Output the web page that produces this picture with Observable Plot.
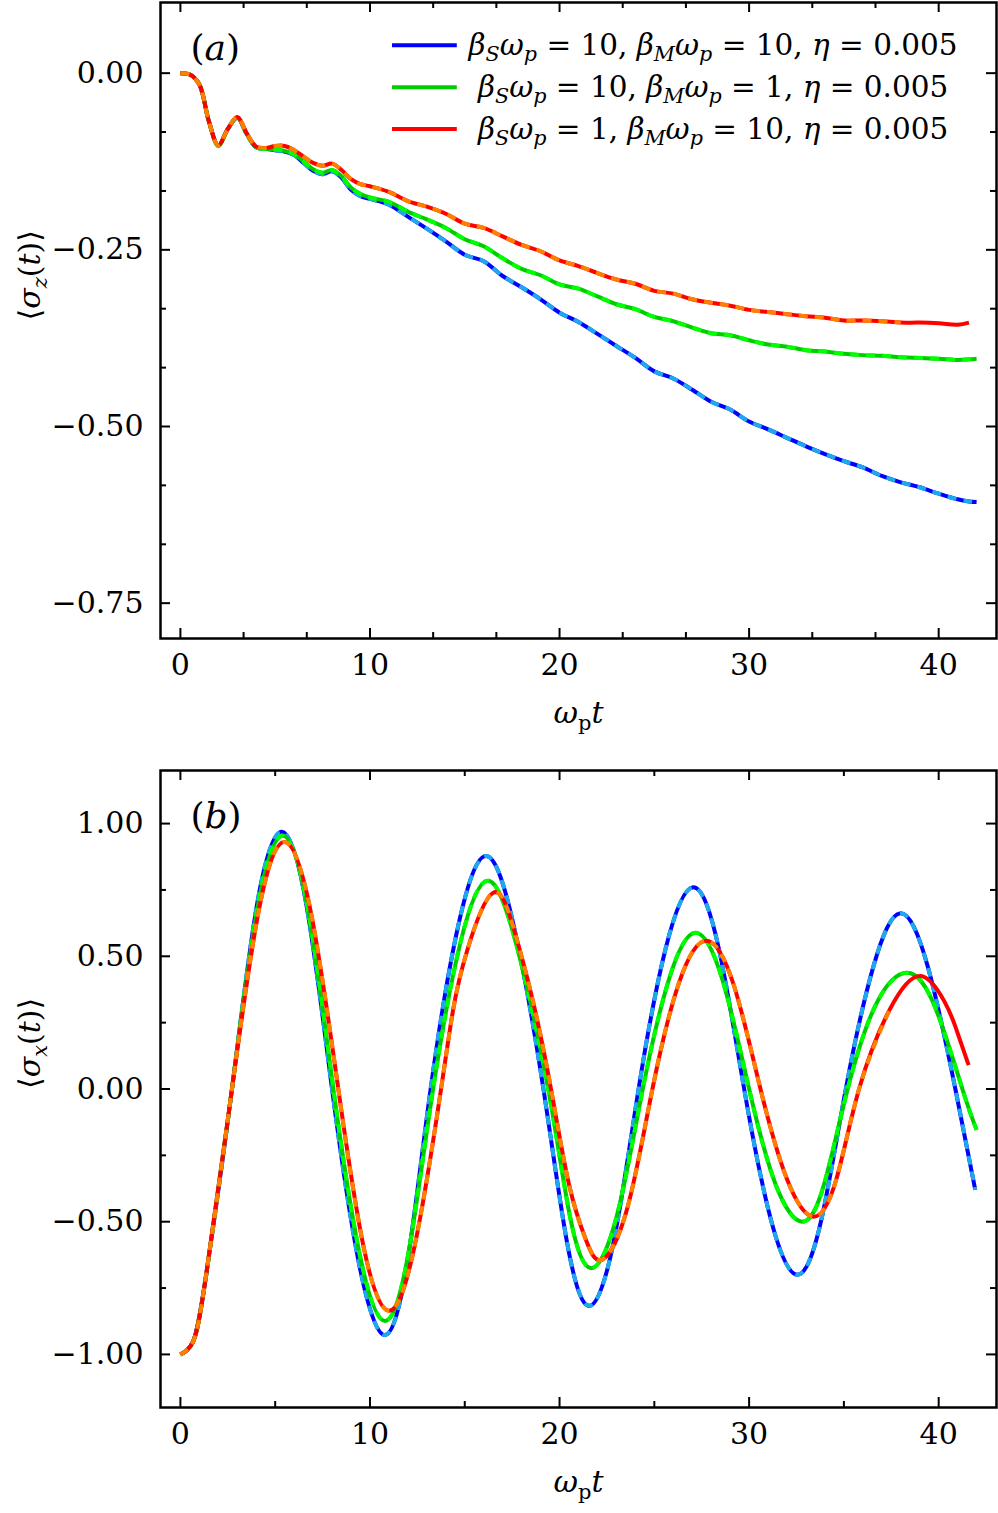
<!DOCTYPE html>
<html><head><meta charset="utf-8">
<script src="https://cdn.jsdelivr.net/npm/d3@7"></script>
<script src="https://cdn.jsdelivr.net/npm/@observablehq/plot@0.6"></script>
<style>
body{margin:0;background:#fff;}
#chart svg{display:block;}
</style></head><body><div id="chart"></div>
<script>
// ---------- Panel (a): <sigma_z(t)> ----------
const tA = [0,0.5,1,1.5,2,2.5,3,3.5,4,4.5,5,5.5,6,6.5,7,7.5,8,8.5,9,9.5,10,
  11,12,13,14,15,16,17,18,19,20,21,22,23,24,25,26,27,28,29,30,31,32,33,34,35,36,37,38,39,40,41,41.6,42];
const blueA = [0,-0.002,-0.016,-0.068,-0.102,-0.079,-0.063,-0.086,-0.105,-0.107,-0.109,-0.111,-0.116,-0.127,-0.138,-0.143,-0.139,-0.148,-0.165,-0.174,-0.178,
  -0.186,-0.203,-0.220,-0.238,-0.257,-0.266,-0.287,-0.303,-0.320,-0.339,-0.352,-0.369,-0.386,-0.403,-0.422,-0.432,-0.448,-0.465,-0.476,-0.493,-0.504,-0.516,-0.528,-0.539,-0.549,-0.558,-0.570,-0.579,-0.586,-0.595,-0.603,-0.606,-0.607];
const greenA = [0,-0.002,-0.016,-0.068,-0.103,-0.079,-0.063,-0.086,-0.105,-0.107,-0.108,-0.110,-0.115,-0.125,-0.136,-0.141,-0.137,-0.146,-0.162,-0.171,-0.176,
  -0.182,-0.196,-0.207,-0.219,-0.235,-0.245,-0.262,-0.277,-0.286,-0.299,-0.305,-0.316,-0.327,-0.334,-0.345,-0.351,-0.360,-0.368,-0.371,-0.378,-0.384,-0.387,-0.392,-0.394,-0.397,-0.399,-0.400,-0.402,-0.403,-0.404,-0.406,-0.405,-0.404];
const redA = [0,-0.002,-0.016,-0.068,-0.102,-0.079,-0.062,-0.085,-0.104,-0.106,-0.103,-0.103,-0.109,-0.118,-0.127,-0.131,-0.128,-0.137,-0.150,-0.157,-0.160,
  -0.168,-0.181,-0.189,-0.199,-0.213,-0.219,-0.231,-0.243,-0.252,-0.265,-0.273,-0.283,-0.292,-0.298,-0.308,-0.312,-0.320,-0.325,-0.329,-0.335,-0.338,-0.341,-0.344,-0.346,-0.350,-0.350,-0.351,-0.353,-0.353,-0.354,-0.356,-0.353,null];

// ---------- Panel (b): <sigma_x(t)> ----------
const tBlueB = [0,0.68,1.36,2.72,4.03,5.35,6.68,8.0,9.4,10.79,12.0,13.2,14.67,16.14,17.6,19.15,20.4,21.58,22.87,24.17,25.6,27.05,28.4,29.74,31.14,32.54,33.82,35.1,36.55,37.98,39.43,40.88,41.93];
const blueB  = [-1.0,-0.95,-0.70,0,0.69,0.969,0.68,0,-0.65,-0.927,-0.64,0,0.62,0.878,0.61,0,-0.58,-0.817,-0.57,0,0.53,0.760,0.53,0,-0.49,-0.70,-0.49,0,0.46,0.662,0.46,0,-0.38];
const tGreenB = [0,0.68,1.36,2.72,4.06,5.4,6.74,8.07,9.45,10.8,12.05,13.33,14.8,16.23,17.7,19.4,20.55,21.68,23.05,24.39,25.8,27.19,28.6,30.0,31.4,32.8,33.95,35.2,36.7,38.33,39.8,41.25,42];
const greenB  = [-1,-0.95,-0.70,0,0.68,0.954,0.67,0,-0.62,-0.874,-0.61,0,0.56,0.785,0.55,0,-0.48,-0.675,-0.47,0,0.42,0.589,0.41,0,-0.36,-0.50,-0.36,0,0.32,0.438,0.31,0,-0.154];
const tRedB = [0,0.68,1.36,2.72,4.1,5.47,6.9,8.33,9.65,10.97,12.36,13.75,14.39,15.12,16.49,17.6,18.6,19.55,20.5,21.4,22.25,23.57,24.9,26.3,27.75,29.2,30.6,32.0,33.4,34.6,35.8,37.42,39.04,40.3,40.88,41.58];
const redB  = [-1,-0.95,-0.70,0,0.66,0.931,0.66,0,-0.59,-0.835,-0.59,0,0.30,0.52,0.739,0.60,0.33,0,-0.36,-0.57,-0.643,-0.45,0,0.40,0.559,0.39,0,-0.34,-0.481,-0.34,0,0.30,0.426,0.33,0.235,0.09];

// ---------- labels & ticks ----------
const legendLabels = ["β_Sω_p = 10, β_Mω_p = 10, η = 0.005",
                      "β_Sω_p = 10, β_Mω_p = 1, η = 0.005",
                      "β_Sω_p = 1, β_Mω_p = 10, η = 0.005"];
const panelLabels = ["(a)", "(b)"];
const yLabels = ["⟨σ_z(t)⟩", "⟨σ_x(t)⟩"];
const xLabel = "ω_~pt";
const xMajor = [0,10,20,30,40];
const xMinorA = [3.333,6.667,13.333,16.667,23.333,26.667,33.333,36.667];
const yMajorA = [0,-0.25,-0.5,-0.75];
const yMinorA = [-0.0833,-0.1667,-0.3333,-0.4167,-0.5833,-0.6667];
const xMinorB = [5,15,25,35];
const yMajorB = [-1,-0.5,0,0.5,1];
const yMinorB = [-0.75,-0.25,0.25,0.75];
const redDashEnd = 38;

const solid = ["#0000ff", "#00cc00", "#ff0000"];
const dashed = ["#1ea8ee", "#00ff00", "#ff8000"];
const FONT = "DejaVu Serif";
const W = 998, ML = 160, MR = 2;

function rows(t, v){ return t.map((x,i)=>({t:x, v:v[i]})).filter(d => d.v != null); }

function panel(o){
  const innerH = o.height - o.marginTop - o.marginBottom;
  const innerW = W - ML - MR;
  const marks = [];
  o.series.forEach((s,i) => {
    marks.push(Plot.line(s, {x:"t", y:"v", stroke: solid[i], strokeWidth: 4, curve: o.curve, strokeLinecap: "butt"}));
    marks.push(Plot.line(s.filter(d => i !== 2 || d.t <= redDashEnd), {x:"t", y:"v", stroke: dashed[i], strokeWidth: 4, strokeDasharray: "9,7", strokeLinecap: "butt", curve: o.curve}));
  });
  const tk = {stroke: "black", strokeWidth: 2};
  const maj = 10, mnr = 6;
  marks.push(
    Plot.tickX(xMajor, {x: d=>d, insetTop: innerH - maj, ...tk}),
    Plot.tickX(xMajor, {x: d=>d, insetBottom: innerH - maj, ...tk}),
    Plot.tickX(o.xMinor, {x: d=>d, insetTop: innerH - mnr, ...tk}),
    Plot.tickX(o.xMinor, {x: d=>d, insetBottom: innerH - mnr, ...tk}),
    Plot.tickY(o.yMajor, {y: d=>d, insetRight: innerW - maj, ...tk}),
    Plot.tickY(o.yMajor, {y: d=>d, insetLeft: innerW - maj, ...tk}),
    Plot.tickY(o.yMinor, {y: d=>d, insetRight: innerW - mnr, ...tk}),
    Plot.tickY(o.yMinor, {y: d=>d, insetLeft: innerW - mnr, ...tk}),
    Plot.axisX(xMajor, {tickSize: 0, tickPadding: 15, tickFormat: d3.format("d"), fontSize: 30, label: null}),
    Plot.axisY(o.yMajor, {tickSize: 0, tickPadding: 17, tickFormat: d3.format(".2f"), fontSize: 30, label: null}),
    Plot.text([xLabel], {frameAnchor: "bottom", dy: 75, text: d=>d, fontSize: 30, lineAnchor: "middle", ariaDescription: "rich"}),
    Plot.text([o.ylabel], {frameAnchor: "left", dx: -130, rotate: -90, text: d=>d, fontSize: 30, lineAnchor: "middle", ariaDescription: "rich"}),
    Plot.text([o.label], {frameAnchor: "top-left", dx: 30, dy: 46, text: d=>d, textAnchor: "start", lineAnchor: "middle", fontSize: 36, ariaDescription: "rich"})
  );
  if (o.legend) {
    legendLabels.forEach((lab, i) => {
      const ly = 0.0395 - i*0.0593;
      marks.push(Plot.link([lab], {x1: 11.16, x2: 14.58, y1: ly, y2: ly, stroke: solid[i], strokeWidth: 4, strokeLinecap: "butt"}));
      marks.push(Plot.text([lab], {x: 28.1, y: ly, text: d=>d, textAnchor: "middle", lineAnchor: "middle", fontSize: 29.5, ariaDescription: "rich"}));
    });
  }
  marks.push(Plot.frame({stroke: "black", strokeWidth: 2.5}));
  return Plot.plot({
    width: W, height: o.height,
    marginTop: o.marginTop, marginBottom: o.marginBottom, marginLeft: ML, marginRight: MR,
    x: {domain: [-1.05, 43.05]},
    y: {domain: o.domainY},
    style: {fontFamily: FONT, background: "white", color: "black"},
    marks
  });
}

function richify(svg){
  d3.select(svg).selectAll('[aria-description="rich"] text').each(function(){
    const src = this.textContent;
    const fs = parseFloat(getComputedStyle(this).fontSize) || 30;
    const sel = d3.select(this).text(null).style("white-space", "pre");
    const runs = [];
    for (let i = 0; i < src.length; i++) {
      let ch = src[i], sub = false, roman = false;
      if (ch === "_") { sub = true; ch = src[++i]; }
      if (ch === "~") { roman = true; ch = src[++i]; }
      const italic = !roman && /[A-Za-zα-ωΑ-Ω]/.test(ch);
      const last = runs[runs.length-1];
      if (last && last.sub === sub && last.italic === italic) last.s += ch;
      else runs.push({s: ch, sub, italic});
    }
    let shifted = 0;
    runs.forEach(r => {
      const ts = sel.append("tspan").text(r.s).attr("font-style", r.italic ? "italic" : "normal");
      const target = r.sub ? 0.22*fs : 0;
      if (target !== shifted) { ts.attr("dy", target - shifted); shifted = target; }
      if (r.sub) ts.attr("font-size", 0.7*fs);
    });
  });
}

const chart = document.getElementById("chart");
const svgA = panel({
  series: [rows(tA, blueA), rows(tA, greenA), rows(tA, redA)],
  domainY: [-0.8, 0.1], height: 745, marginTop: 2, marginBottom: 107,
  xMinor: xMinorA, yMajor: yMajorA, yMinor: yMinorA, curve: "catmull-rom",
  label: panelLabels[0], ylabel: yLabels[0], legend: true
});
const svgB = panel({
  series: [rows(tBlueB, blueB), rows(tGreenB, greenB), rows(tRedB, redB)],
  domainY: [-1.2, 1.2], height: 768, marginTop: 25, marginBottom: 106,
  xMinor: xMinorB, yMajor: yMajorB, yMinor: yMinorB, curve: "natural",
  label: panelLabels[1], ylabel: yLabels[1], legend: false
});
chart.appendChild(svgA);
chart.appendChild(svgB);
richify(svgA);
richify(svgB);
</script>
</body></html>
